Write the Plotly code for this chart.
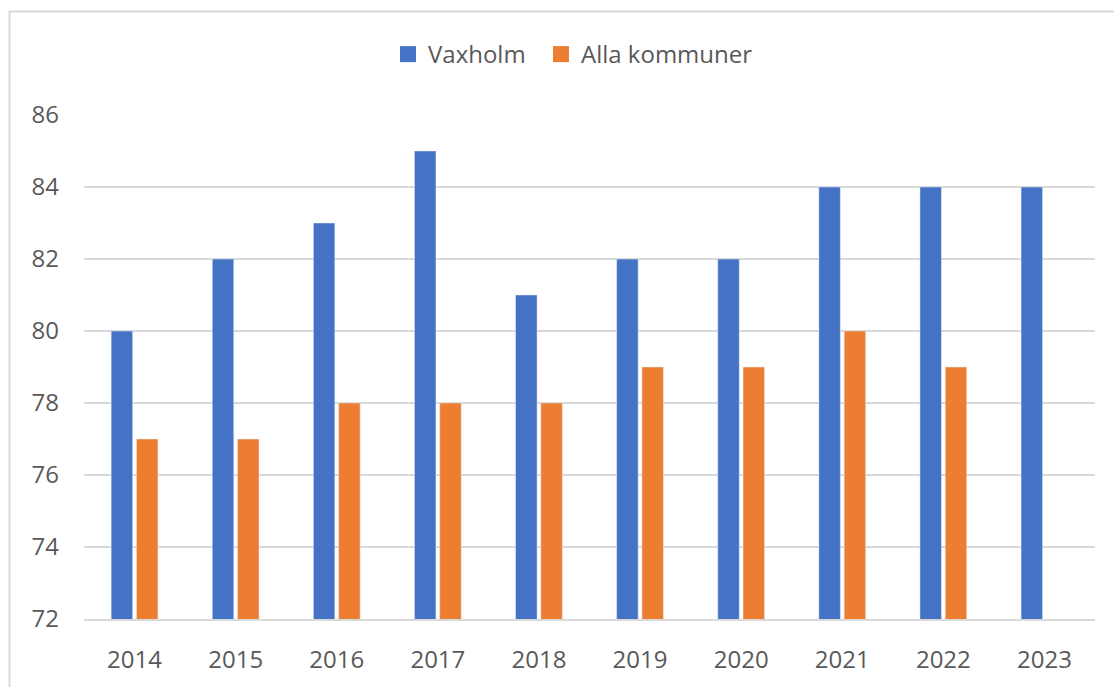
import plotly.graph_objects as go

years = ["2014", "2015", "2016", "2017", "2018", "2019", "2020", "2021", "2022", "2023"]
vaxholm = [80, 82, 83, 85, 81, 82, 82, 84, 84, 84]
alla_kommuner = [77, 77, 78, 78, 78, 79, 79, 80, 79, None]

series_names = ["Vaxholm", "Alla kommuner"]
series_colors = ["#4472C4", "#ED7D31"]
legend_ids = ["legend", "legend2"]

text_color = "#595959"
grid_color = "#D9D9D9"
font_family = "Open Sans, Liberation Sans, sans-serif"

fig = go.Figure()
for name, values, color in zip(series_names, [vaxholm, alla_kommuner], series_colors):
    fig.add_trace(go.Bar(x=years, y=values, name=name, marker_color=color,
                         showlegend=False, legendgroup=name))

# Legend entries with larger square swatches, one legend box per series
for name, color, lid in zip(series_names, series_colors, legend_ids):
    fig.add_trace(go.Scatter(x=[None], y=[None], mode="markers", name=name,
                             legendgroup=name, legend=lid,
                             marker=dict(symbol="square", size=17, color=color)))

legend_style = dict(
    orientation="h",
    xanchor="left",
    y=1.12,
    yanchor="middle",
    font=dict(size=24, color=text_color),
    itemwidth=30,
    bgcolor="rgba(0,0,0,0)",
)

fig.update_layout(
    width=1114,
    height=687,
    margin=dict(l=84, r=19, t=115, b=66),
    paper_bgcolor="white",
    plot_bgcolor="white",
    barmode="group",
    bargap=0.5,
    bargroupgap=0.15,
    font=dict(family=font_family, size=24, color=text_color),
    legend=dict(x=0.3007, **legend_style),
    legend2=dict(x=0.452, **legend_style),
    xaxis=dict(
        showgrid=False,
        showline=True,
        linecolor=grid_color,
        linewidth=2,
        ticks="",
        ticklabelstandoff=18,
        tickfont=dict(size=24, color=text_color),
    ),
    yaxis=dict(
        range=[72, 86],
        tick0=72,
        dtick=2,
        showgrid=True,
        gridcolor=grid_color,
        gridwidth=2,
        zeroline=False,
        showline=False,
        ticks="",
        ticklabelstandoff=24,
        tickfont=dict(size=24, color=text_color),
    ),
    shapes=[
        dict(
            type="rect",
            xref="paper",
            yref="paper",
            x0=-0.0737,
            x1=1.2,
            y0=-0.3,
            y1=1.2055,
            line=dict(color=grid_color, width=2),
            fillcolor="rgba(0,0,0,0)",
            layer="below",
        )
    ],
)

fig.write_html("out.html")
